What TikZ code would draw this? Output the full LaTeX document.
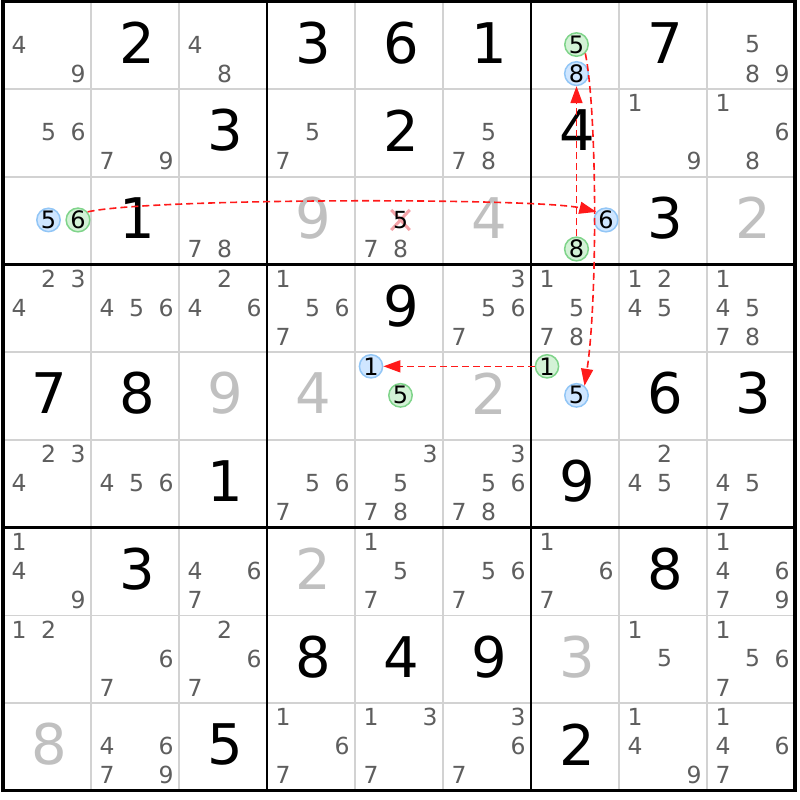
\documentclass[tikz,border=0pt]{standalone}
\usepackage{fontspec}
\setmainfont{DejaVu Sans}
\usetikzlibrary{arrows.meta}

\definecolor{candgray}{HTML}{5E5E5E}
\definecolor{solvedgray}{HTML}{C0C0C0}
\definecolor{gridgray}{HTML}{D2D2D2}
\definecolor{chainred}{HTML}{FF1A1A}
\definecolor{xpink}{HTML}{F4A3A8}
\definecolor{onfill}{HTML}{CFE6FF}
\definecolor{ondraw}{HTML}{92C6F6}
\definecolor{offfill}{HTML}{D3F2D6}
\definecolor{offdraw}{HTML}{7FD48A}

\def\candX{0.182}
\def\candY{0.16}
\def\candDX{0.335}
\def\candDY{0.331}

\tikzset{
  given/.style={font=\fontsize{56}{60}\selectfont, inner sep=0pt},
  solved/.style={given, text=solvedgray},
  cand/.style={font=\fontsize{23.5}{24}\selectfont, text=candgray, inner sep=0pt},
  hl/.style={circle, minimum size=22pt, inner sep=0pt, line width=1.5pt,
    font=\fontsize{24}{24}\selectfont, text=black},
  on/.style={hl, draw=ondraw, fill=onfill},
  off/.style={hl, draw=offdraw, fill=offfill},
  chain/.style={draw=chainred, line width=1.6pt, dash pattern=on 7pt off 4pt,
    -{Triangle[length=17pt,width=12pt]}}
}

\newcommand\cands[3]{%
  \foreach \d in {#3} {
    \pgfmathsetmacro\cx{#2-1+\candX+\candDX*mod(\d-1,3)}
    \pgfmathsetmacro\cy{#1-1+\candY+\candDY*int((\d-0.5)/3)}
    \node[cand] (k#1#2\d) at (\cx,\cy) {\d};
  }}

\newcommand\hlcand[5]{%
  \pgfmathsetmacro\cx{#2-1+\candX+\candDX*mod(#3-1,3)}
  \pgfmathsetmacro\cy{#1-1+\candY+\candDY*int((#3-0.5)/3)}
  \node[#4] (#5) at (\cx,\cy) {#3};
}

\begin{document}
\begin{tikzpicture}[x=88pt, y=-87.7pt]
  \useasboundingbox[fill=white] (-0.0341,-0.0171) rectangle (9.0568,9.1049);

  \foreach \i in {1,...,8} {
      \draw [line width=1.8pt, gridgray] (\i,0) -- (\i,9);
      \draw [line width=1.8pt, gridgray] (0,\i) -- (9,\i);
  }
  \foreach \i in {3,6} {
      \draw [line width=2.6pt] (\i,0) -- (\i,9);
      \draw [line width=2.6pt] (0,\i) -- (9,\i);
  }
  \draw [line width=3.2pt] (0,0) rectangle (9,9);

  \foreach \r/\c/\d in {1/2/2, 1/4/3, 1/5/6, 1/6/1, 1/8/7, 2/3/3, 2/5/2, 2/7/4,
      3/2/1, 3/8/3, 4/5/9, 5/1/7, 5/2/8, 5/8/6, 5/9/3, 6/3/1, 6/7/9,
      7/2/3, 7/8/8, 8/4/8, 8/5/4, 8/6/9, 9/3/5, 9/7/2} {
      \node[given] (v\r\c) at (\c-0.477,\r-0.53) {\d};
  }
  \foreach \r/\c/\d in {3/4/9, 3/6/4, 3/9/2, 5/3/9, 5/4/4, 5/6/2, 7/4/2, 8/7/3, 9/1/8} {
      \node[solved] (v\r\c) at (\c-0.477,\r-0.53) {\d};
  }

  \cands{1}{1}{4,9}
  \cands{1}{3}{4,8}
  \cands{1}{9}{5,8,9}
  \cands{2}{1}{5,6}
  \cands{2}{2}{7,9}
  \cands{2}{4}{5,7}
  \cands{2}{6}{5,7,8}
  \cands{2}{8}{1,9}
  \cands{2}{9}{1,6,8}
  \cands{3}{3}{7,8}
  \cands{3}{5}{7,8}
  \cands{4}{1}{2,3,4}
  \cands{4}{2}{4,5,6}
  \cands{4}{3}{2,4,6}
  \cands{4}{4}{1,5,6,7}
  \cands{4}{6}{3,5,6,7}
  \cands{4}{7}{1,5,7,8}
  \cands{4}{8}{1,2,4,5}
  \cands{4}{9}{1,4,5,7,8}
  \cands{6}{1}{2,3,4}
  \cands{6}{2}{4,5,6}
  \cands{6}{4}{5,6,7}
  \cands{6}{5}{3,5,7,8}
  \cands{6}{6}{3,5,6,7,8}
  \cands{6}{8}{2,4,5}
  \cands{6}{9}{4,5,7}
  \cands{7}{1}{1,4,9}
  \cands{7}{3}{4,6,7}
  \cands{7}{5}{1,5,7}
  \cands{7}{6}{5,6,7}
  \cands{7}{7}{1,6,7}
  \cands{7}{9}{1,4,6,7,9}
  \cands{8}{1}{1,2}
  \cands{8}{2}{6,7}
  \cands{8}{3}{2,6,7}
  \cands{8}{8}{1,5}
  \cands{8}{9}{1,5,6,7}
  \cands{9}{2}{4,6,7,9}
  \cands{9}{4}{1,6,7}
  \cands{9}{5}{1,3,7}
  \cands{9}{6}{3,6,7}
  \cands{9}{8}{1,4,9}
  \cands{9}{9}{1,4,6,7}

  \coordinate (elim) at (5-1+\candX+\candDX,3-1+\candY+\candDY);
  \draw[xpink, line width=3pt] (elim) ++(-0.105,-0.115) -- ++(0.21,0.23)
      (elim) ++(-0.105,0.115) -- ++(0.21,-0.23);
  \node[cand, text=black] (k355) at (elim) {5};

  \hlcand{1}{7}{5}{off}{r1c7n5}
  \hlcand{1}{7}{8}{on}{r1c7n8}
  \hlcand{3}{1}{5}{on}{r3c1n5}
  \hlcand{3}{1}{6}{off}{r3c1n6}
  \hlcand{3}{7}{6}{on}{r3c7n6}
  \hlcand{3}{7}{8}{off}{r3c7n8}
  \hlcand{5}{5}{1}{on}{r5c5n1}
  \hlcand{5}{5}{5}{off}{r5c5n5}
  \hlcand{5}{7}{1}{off}{r5c7n1}
  \hlcand{5}{7}{5}{on}{r5c7n5}

  \draw[chain] (r3c1n6.40) .. controls +(0.7,-0.16) and +(-0.65,-0.16) .. (r3c7n6.140);
  \draw[chain] (r3c7n8) -- (r1c7n8);
  \draw[chain] (r1c7n5.-45) .. controls +(0.136,0.66) and +(0.148,-0.96) .. (r5c7n5.50);
  \draw[chain] (r5c7n1) -- (r5c5n1);
\end{tikzpicture}
\end{document}
